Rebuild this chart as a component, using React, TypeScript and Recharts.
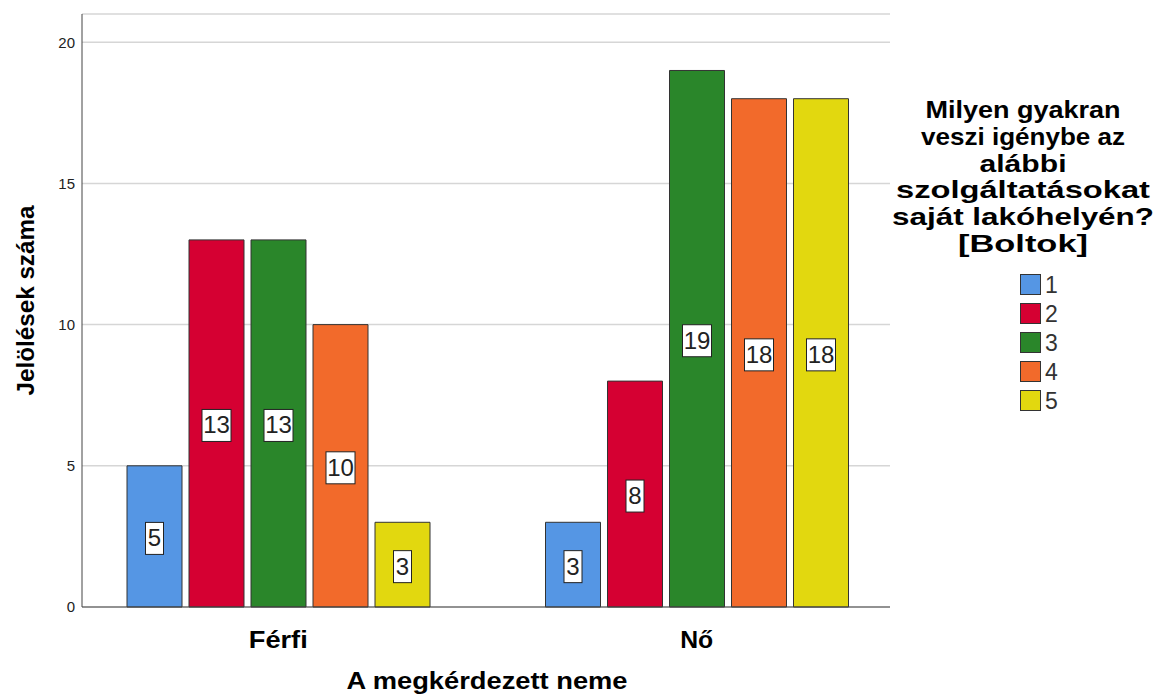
import { BarChart, Bar, XAxis, YAxis, CartesianGrid, LabelList, Legend, Label } from "recharts";

const categories = ["Férfi", "Nő"];
const seriesNames = ["1", "2", "3", "4", "5"];
const answer1 = [5, 3];
const answer2 = [13, 8];
const answer3 = [13, 19];
const answer4 = [10, 18];
const answer5 = [3, 18];
const yTicks = [0, 5, 10, 15, 20];
const legendTitle = [
  "Milyen gyakran",
  "veszi igénybe az",
  "alábbi",
  "szolgáltatásokat",
  "saját lakóhelyén?",
  "[Boltok]",
];
// rough pixel widths of the title lines in the picture
const legendTitleWidths = [195, 204, 87, 254, 262, 130];

const COLORS = ["#5596e4", "#d50032", "#2a862a", "#f26a2b", "#e2d80f"];
const FONT = "'Liberation Sans', Arial, sans-serif";
const keys = ["a1", "a2", "a3", "a4", "a5"];

const data = categories.map((name, i) => ({
  name,
  a1: answer1[i],
  a2: answer2[i],
  a3: answer3[i],
  a4: answer4[i],
  a5: answer5[i],
}));

function BoxLabel(props: any) {
  const { x, y, width, height, value } = props;
  const cx = x + width / 2;
  const cy = y + height / 2 + 2;
  const w = String(value).length > 1 ? 29 : 18;
  return (
    <g>
      <rect x={cx - w / 2} y={cy - 16} width={w} height={32} fill="#fff" stroke="#222" strokeWidth={1} />
      <text
        x={cx}
        y={cy + 8}
        textAnchor="middle"
        fontSize={24}
        fontFamily="'Liberation Sans Narrow', 'Liberation Sans', Arial, sans-serif"
        fill="#222"
      >
        {value}
      </text>
    </g>
  );
}

function XTick(props: any) {
  const { x, y, payload } = props;
  const len = payload.value === "Férfi" ? 59 : 33;
  return (
    <text
      x={x}
      y={y + 41}
      textAnchor="middle"
      fontSize={24}
      fontWeight="bold"
      fontFamily={FONT}
      fill="#000"
      textLength={len}
      lengthAdjust="spacingAndGlyphs"
    >
      {payload.value}
    </text>
  );
}

function LegendBox(props: any) {
  const { payload } = props;
  return (
    <svg width={268} height={330} style={{ display: "block" }}>
      {legendTitle.map((line, i) => (
        <text
          key={line}
          x={133}
          y={23 + i * 26.8}
          textAnchor="middle"
          fontSize={24}
          fontWeight="bold"
          fontFamily={FONT}
          fill="#000"
          textLength={legendTitleWidths[i]}
          lengthAdjust="spacingAndGlyphs"
        >
          {line}
        </text>
      ))}
      {(payload || []).map((entry: any, i: number) => (
        <g key={entry.value}>
          <rect x={130.5} y={179.5 + i * 29} width={20} height={20} fill={entry.color} stroke="#333" strokeWidth={1} />
          <text x={155} y={198 + i * 29} fontSize={23} fontFamily={FONT} fill="#333">
            {entry.value}
          </text>
        </g>
      ))}
    </svg>
  );
}

export default function App() {
  return (
    <div style={{ position: "absolute", left: 0, top: 0, background: "#fff" }}>
      <BarChart
        width={1158}
        height={695}
        data={data}
        margin={{ top: 14, right: 0, bottom: 0, left: 0 }}
        barSize={55}
        barGap={7}
      >
        <CartesianGrid vertical={false} stroke="#d6d6d6" strokeWidth={1.5} />
        <XAxis
          dataKey="name"
          padding={{ left: -13, right: -16 }}
          tickLine={false}
          tickSize={0}
          tickMargin={0}
          axisLine={{ stroke: "#444", strokeWidth: 1 }}
          tick={<XTick />}
          height={88}
        >
          <Label
            content={(p: any) => {
              const vb = p.viewBox;
              return (
                <text
                  x={vb.x + vb.width / 2 + 1}
                  y={vb.y + 82}
                  textAnchor="middle"
                  fontSize={24}
                  fontWeight="bold"
                  fontFamily={FONT}
                  fill="#000"
                  textLength={281}
                  lengthAdjust="spacingAndGlyphs"
                >
                  A megkérdezett neme
                </text>
              );
            }}
          />
        </XAxis>
        <YAxis
          width={82}
          domain={[0, 21]}
          ticks={yTicks}
          tickLine={false}
          tickSize={0}
          tickMargin={7}
          axisLine={{ stroke: "#444", strokeWidth: 1 }}
          tick={{ fontSize: 15, fill: "#222", fontFamily: FONT }}
        >
          <Label
            content={(p: any) => {
              const vb = p.viewBox;
              const cy = vb.y + vb.height / 2 - 10;
              return (
                <text
                  x={34}
                  y={cy}
                  transform={`rotate(-90, 34, ${cy})`}
                  textAnchor="middle"
                  fontSize={24}
                  fontWeight="bold"
                  fontFamily={FONT}
                  fill="#000"
                  textLength={190}
                  lengthAdjust="spacingAndGlyphs"
                >
                  Jelölések száma
                </text>
              );
            }}
          />
        </YAxis>
        <Legend
          layout="horizontal"
          verticalAlign="middle"
          align="right"
          width={268}
          content={<LegendBox />}
          wrapperStyle={{ position: "absolute", left: 890, top: 95, width: 268, height: 330 }}
        />
        {keys.map((k, i) => (
          <Bar
            key={k}
            dataKey={k}
            name={seriesNames[i]}
            fill={COLORS[i]}
            stroke="#333"
            strokeWidth={1}
            isAnimationActive={false}
          >
            <LabelList dataKey={k} content={<BoxLabel />} />
          </Bar>
        ))}
      </BarChart>
    </div>
  );
}
